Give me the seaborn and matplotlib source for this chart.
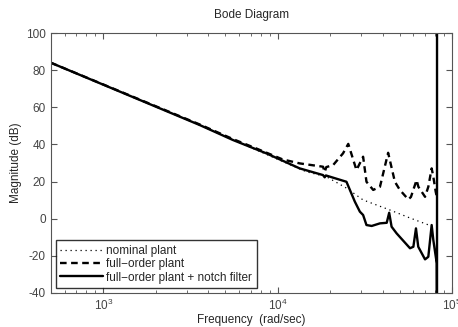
import numpy as np
import pandas as pd
import matplotlib
matplotlib.use("Agg")
import matplotlib.pyplot as plt
import seaborn as sns

# Frequencies (rad/sec) and magnitudes (dB)
nominal_w = [500, 3562, 10000, 14600, 19050, 24800, 30900, 44000, 57000, 76000]
nominal_db = [84, 50.5, 32, 25.3, 22.6, 16.5, 10.1, 4.7, 0.5, -3.9]

full_w = [500, 3562, 5534, 7550, 10700, 13370, 18200, 18600, 19000, 20800, 23700,
          25400, 28300, 30900, 32300, 35300, 38600, 43000, 47000, 50200, 56100,
          58100, 62600, 64100, 70000, 73100, 76400, 78100, 80600, 81700]
full_db = [84, 50.8, 42.9, 37.8, 31.9, 29.8, 28.0, 25.1, 27.8, 28.9, 35.2,
           40.3, 26.2, 33.4, 19.9, 15.5, 17.2, 35.5, 19.9, 15.5, 10.4,
           11.7, 20.8, 17.2, 11.8, 17.2, 27.1, 22.6, 14.5, 12.0]

notch_w = [500, 3562, 5534, 8610, 13370, 18200, 18600, 18900, 24800, 27700, 29600,
           30900, 32300, 34600, 38600, 42200, 43600, 45000, 48100, 57400, 60000,
           62100, 64000, 70000, 73100, 76400, 78100, 81700, 82000, 82000]
notch_db = [84, 50.5, 42.4, 35.2, 27.1, 23.5, 22.3, 23.3, 19.9, 9.2, 3.8,
            2.0, -3.4, -3.9, -2.5, -2.2, 3.2, -4.3, -7.9, -15.9, -15.1,
            -5.2, -15.1, -21.9, -20.5, -3.4, -11.5, -24.0, -80, 160]

series_labels = ["nominal plant", "full\u2212order plant", "full\u2212order plant + notch filter"]
y_ticks = [-40, -20, 0, 20, 40, 60, 80, 100]

sns.set_style("ticks")
plt.rcParams['font.family'] = ['Liberation Sans', 'DejaVu Sans']

fig = plt.figure(figsize=(4.58, 3.27), dpi=100)
ax = fig.add_axes([0.111, 0.104, 0.876, 0.795])

sns.lineplot(x=nominal_w, y=nominal_db, ax=ax, color="black", lw=0.9,
             linestyle=(0, (1, 3)), sort=False, estimator=None, label=series_labels[0])
sns.lineplot(x=full_w, y=full_db, ax=ax, color="black", lw=1.7,
             linestyle=(0, (2.8, 1.9)), sort=False, estimator=None, label=series_labels[1])
sns.lineplot(x=notch_w, y=notch_db, ax=ax, color="black", lw=1.7,
             linestyle="-", sort=False, estimator=None, label=series_labels[2])

ax.set_xscale("log")
ax.set_xlim(500, 1e5)
ax.set_ylim(-40, 100)
ax.set_yticks(y_ticks)
ax.set_yticklabels([str(v) for v in y_ticks])

ax.tick_params(axis="both", which="both", direction="in", top=True, right=True,
               labelsize=8.5, labelcolor="#444444", color="#555555")
ax.tick_params(which="major", length=4)
ax.tick_params(which="minor", length=2)
for s in ax.spines.values():
    s.set_color("#555555")
    s.set_linewidth(0.8)

ax.set_title("Bode Diagram", fontsize=8.5, pad=11)
ax.set_xlabel("Frequency  (rad/sec)", fontsize=8.5, labelpad=1)
ax.set_ylabel("Magnitude (dB)", fontsize=8.5, labelpad=3)

leg = ax.legend(loc="lower left", fontsize=8.5, frameon=True, fancybox=False,
                borderpad=0.4, labelspacing=0.12, handlelength=3.6, handletextpad=0.3,
                borderaxespad=0.4)
leg.get_frame().set_edgecolor("black")
leg.get_frame().set_linewidth(1.0)

fig.savefig("out.png", dpi=100)
